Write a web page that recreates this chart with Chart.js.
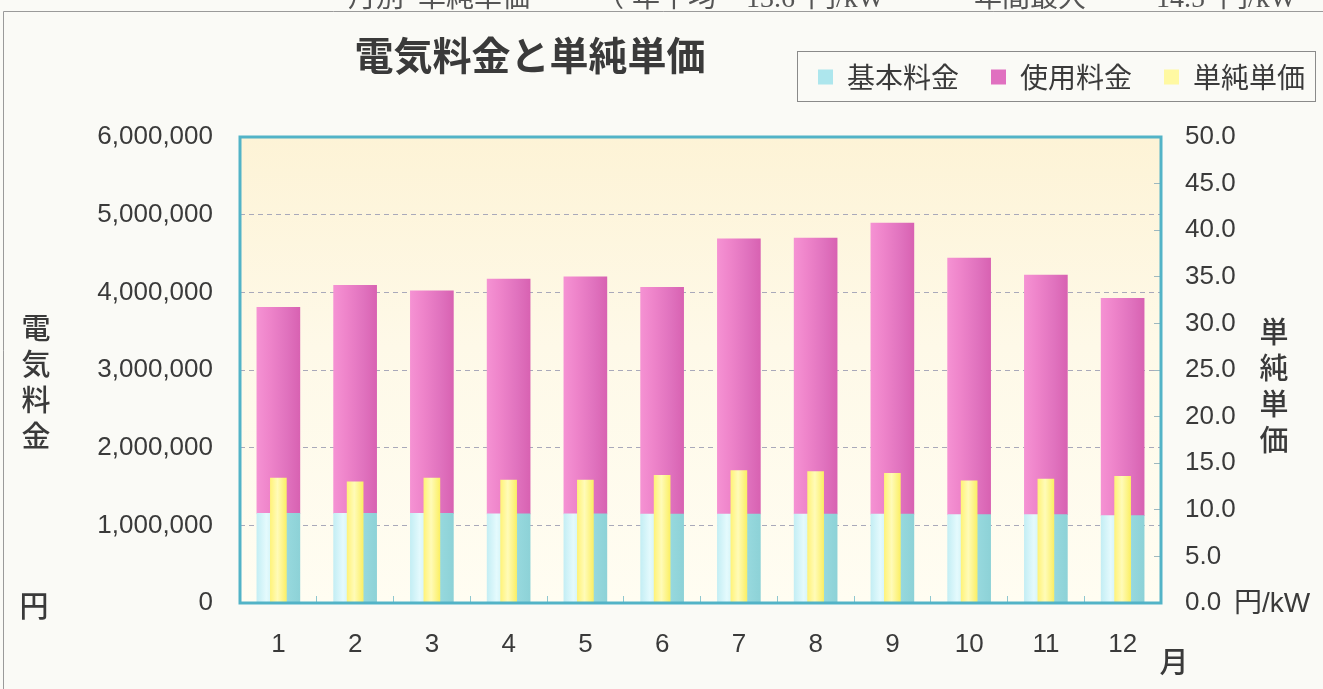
<!DOCTYPE html>
<html lang="ja">
<head>
<meta charset="utf-8">
<title>電気料金と単純単価</title>
<script src="https://cdn.jsdelivr.net/npm/chart.js@4.4.1/dist/chart.umd.min.js"></script>
<style>
  html, body { margin: 0; padding: 0; background: #fafaf6; }
  #wrap { position: relative; width: 1323px; height: 689px; }
</style>
</head>
<body>
<div id="wrap"><canvas id="chart"></canvas></div>
<script>
// data
const months = ['1', '2', '3', '4', '5', '6', '7', '8', '9', '10', '11', '12'];
const baseCharge = [1155000, 1155000, 1155000, 1148000, 1148000, 1146000, 1146000, 1146000, 1145000, 1137000, 1137000, 1124000];
const usageCharge = [2652000, 2935000, 2865000, 3022000, 3052000, 2919000, 3544000, 3554000, 3748000, 3305000, 3086000, 2799000];
const unitPrice = [13.4, 13.0, 13.4, 13.2, 13.2, 13.7, 14.2, 14.1, 13.9, 13.1, 13.3, 13.6];
const seriesNames = ['基本料金', '使用料金', '単純単価'];
const costMax = 6000000, costStep = 1000000;
const priceMax = 50, priceStep = 5;

const FONT = "'Liberation Sans', 'Noto Sans CJK JP', sans-serif";
const JP = "'Noto Sans CJK JP', sans-serif";
const TEXT = '#3a3a3a';
const PAD_RIGHT = -14;
const swatch = ['#ade6ed', '#e070c0', '#fff9a2'];

// horizontal gradient across one bar
function barFill(stops, width) {
  return function(ctx) {
    const chart = ctx.chart;
    if (!chart.chartArea || !chart.scales.x) return stops[0][1];
    const cx = chart.scales.x.getPixelForValue(ctx.dataIndex || 0);
    const g = chart.ctx.createLinearGradient(cx - width / 2, 0, cx + width / 2, 0);
    stops.forEach(s => g.addColorStop(s[0], s[1]));
    return g;
  };
}

const decor = {
  id: 'decor',
  beforeDraw(chart) {
    const c = chart.ctx, a = chart.chartArea;
    c.save();
    c.fillStyle = '#fafaf6';
    c.fillRect(0, 0, chart.width, chart.height);
    // outer frame
    c.strokeStyle = '#9a9a9a';
    c.lineWidth = 1;
    c.beginPath();
    c.moveTo(3.5, chart.height);
    c.lineTo(3.5, 11.5);
    c.lineTo(chart.width, 11.5);
    c.stroke();
    // plot area
    const g = c.createLinearGradient(0, a.top, 0, a.bottom);
    g.addColorStop(0, '#fdf3d6');
    g.addColorStop(0.45, '#fef9e8');
    g.addColorStop(1, '#fffdf2');
    c.fillStyle = g;
    c.fillRect(a.left, a.top, a.right - a.left, a.bottom - a.top);
    c.restore();
  },
  afterDatasetsDraw(chart) {
    const c = chart.ctx, a = chart.chartArea;
    c.save();
    c.strokeStyle = '#52b3c7';
    c.lineWidth = 3;
    c.strokeRect(a.left, a.top, a.right - a.left, a.bottom - a.top);
    c.restore();
  },
  afterDraw(chart) {
    const c = chart.ctx;
    c.save();
    // cut-off line above the frame
    c.font = "28px 'Liberation Serif', 'Noto Sans CJK JP', serif";
    c.fillStyle = '#555';
    c.textBaseline = 'alphabetic';
    c.textAlign = 'left';
    [['月別', 348], ['単純単価', 418], ['（', 596], ['年平均', 632], ['13.6', 746], ['円/kW', 808],
     ['年間最大', 974], ['14.5', 1156], ['円/kW', 1220]].forEach(t => c.fillText(t[0], t[1], 7));
    c.fillStyle = TEXT;
    c.textBaseline = 'middle';
    // title
    c.font = 'bold 39px ' + JP;
    c.textAlign = 'center';
    c.fillText('電気料金と単純単価', 530, 55);
    // axis titles
    c.font = '500 29px ' + JP;
    '電気料金'.split('').forEach((ch, i) => c.fillText(ch, 36, 328 + i * 36));
    c.fillText('円', 34, 606);
    '単純単価'.split('').forEach((ch, i) => c.fillText(ch, 1274, 332 + i * 36));
    c.fillText('月', 1174, 662);
    c.textAlign = 'left';
    c.font = '28px ' + FONT;
    c.fillText('円/kW', 1234, 604);
    // legend frame
    const hb = chart.legend && chart.legend.legendHitBoxes;
    if (hb && hb.length) {
      const l = Math.min(...hb.map(h => h.left)) - 21;
      const r = Math.max(...hb.map(h => h.left + h.width)) + 10;
      const t = hb[0].top - 12;
      const b = hb[0].top + hb[0].height + 10;
      c.strokeStyle = '#8a8a8a';
      c.lineWidth = 1;
      c.strokeRect(Math.round(l) + 0.5, Math.round(t) + 0.5, Math.round(r - l), Math.round(b - t));
    }
    c.restore();
  }
};

new Chart(document.getElementById('chart'), {
  type: 'bar',
  data: {
    labels: months,
    datasets: [{
      label: seriesNames[0],
      data: baseCharge,
      yAxisID: 'y',
      stack: 'cost',
      order: 1,
      grouped: false,
      barThickness: 43,
      borderWidth: 0,
      backgroundColor: barFill([[0, '#c4eef4'], [0.22, '#e4fafd'], [0.5, '#bfebf0'], [0.72, '#96d8dd'], [1, '#8dd2d7']], 43)
    }, {
      label: seriesNames[1],
      data: usageCharge,
      yAxisID: 'y',
      stack: 'cost',
      order: 1,
      grouped: false,
      barThickness: 43,
      borderWidth: 0,
      backgroundColor: barFill([[0, '#f592d3'], [0.3, '#ee84ca'], [0.7, '#e072be'], [1, '#d862b2']], 43)
    }, {
      label: seriesNames[2],
      data: unitPrice,
      yAxisID: 'y1',
      stack: 'price',
      order: 0,
      grouped: false,
      barThickness: 16,
      borderWidth: 0,
      backgroundColor: barFill([[0, '#fff37a'], [0.45, '#fffbb8'], [1, '#fbef66']], 16)
    }]
  },
  options: {
    responsive: true,
    maintainAspectRatio: false,
    animation: false,
    layout: { padding: { top: 31, left: 0, right: PAD_RIGHT, bottom: 0 } },
    plugins: {
      legend: {
        position: 'top',
        align: 'end',
        labels: {
          font: { family: JP, size: 28 },
          color: TEXT,
          boxWidth: 15,
          boxHeight: 15,
          padding: 32,
          generateLabels: chart => Chart.defaults.plugins.legend.labels.generateLabels(chart)
            .map(item => Object.assign(item, { fillStyle: swatch[item.datasetIndex], lineWidth: 0 })),
          sort: (a, b) => a.datasetIndex - b.datasetIndex
        }
      },
      subtitle: {
        display: true,
        text: '',
        weight: 100,
        font: { size: 10 },
        padding: { top: 0, bottom: 24 }
      },
      title: { display: false },
      tooltip: { enabled: false }
    },
    scales: {
      x: {
        offset: true,
        grid: { display: true, drawOnChartArea: false, drawTicks: true, tickLength: -7, color: '#8fc7cf' },
        border: { display: false },
        ticks: { font: { family: FONT, size: 26 }, color: TEXT, padding: 33 },
        afterFit: s => { s.height = 86; }
      },
      y: {
        stacked: true,
        min: 0,
        max: costMax,
        grid: { color: '#a9a9ba', drawTicks: false },
        border: { display: false, dash: [5, 4] },
        ticks: {
          stepSize: costStep,
          font: { family: FONT, size: 26 },
          color: TEXT,
          padding: 27,
          callback: v => v.toLocaleString('en-US')
        },
        afterFit: s => { s.width = 240; }
      },
      y1: {
        position: 'right',
        min: 0,
        max: priceMax,
        grid: { drawOnChartArea: false, drawTicks: true, tickLength: -7, color: '#9fb8be' },
        border: { display: false },
        ticks: {
          stepSize: priceStep,
          font: { family: FONT, size: 26 },
          color: TEXT,
          padding: 31,
          callback: v => v.toFixed(1)
        },
        afterFit: s => { s.width = 1323 - 1161 - PAD_RIGHT; }
      }
    }
  },
  plugins: [decor]
});
</script>
</body>
</html>
